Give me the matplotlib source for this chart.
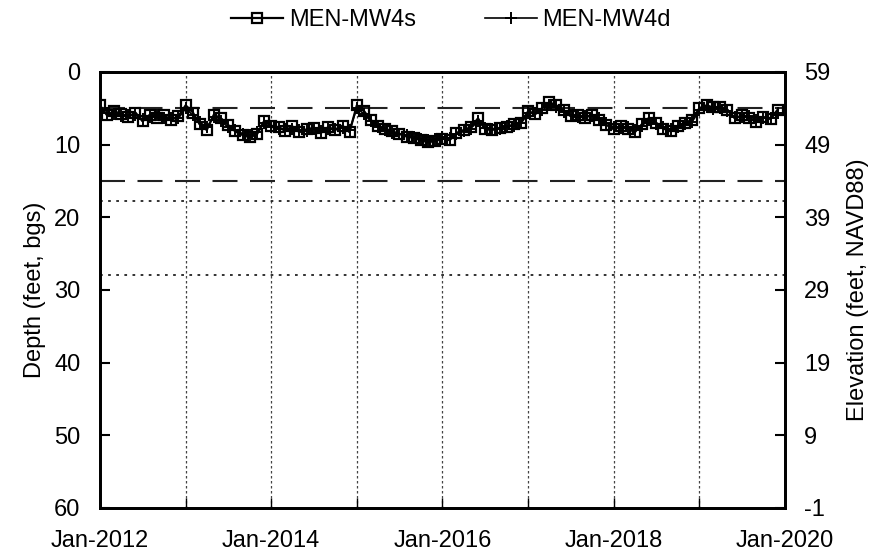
import numpy as np
import pandas as pd
import matplotlib
matplotlib.use('Agg')
import matplotlib.pyplot as plt
import matplotlib.dates as mdates
from matplotlib.ticker import FixedLocator

plt.rcParams['font.family'] = ['Liberation Sans', 'DejaVu Sans']
plt.rcParams['axes.unicode_minus'] = False

# Datos (profundidad en pies bajo superficie, mensual ene-2012 a dic-2019)
fechas = pd.date_range('2012-01-01', periods=96, freq='MS')

prof_mw4s = [
    4.6, 6.0, 5.4, 5.8, 6.2, 5.6, 6.8, 5.9, 6.3, 6.0, 6.6, 6.1,
    4.6, 5.6, 7.2, 8.0, 5.9, 6.4, 7.3, 8.2, 8.7, 9.0, 8.6, 6.8,
    7.4, 7.6, 8.1, 7.5, 8.3, 7.9, 7.7, 8.4, 7.6, 8.0, 7.4, 8.3,
    4.6, 5.4, 6.6, 7.4, 7.8, 8.2, 8.5, 8.9, 9.1, 9.4, 9.7, 9.5,
    9.2, 9.4, 8.4, 8.0, 7.6, 6.4, 7.9, 8.0, 7.7, 7.6, 7.2, 7.0,
    5.4, 5.8, 5.0, 4.2, 4.6, 5.3, 6.1, 6.0, 6.3, 5.9, 6.6, 7.3,
    7.9, 7.5, 7.8, 8.3, 7.2, 6.3, 7.0, 7.8, 8.2, 7.5, 7.0, 6.6,
    5.0, 4.6, 4.9, 4.8, 5.2, 6.4, 6.0, 6.3, 6.9, 6.2, 6.5, 5.2,
]
prof_mw4d = [
    5.2, 5.7, 5.8, 6.1, 5.9, 6.0, 6.5, 6.2, 6.0, 6.3, 6.4, 6.4,
    5.0, 6.0, 6.9, 7.6, 6.2, 6.8, 7.6, 8.0, 8.5, 8.7, 8.3, 7.1,
    7.6, 7.8, 7.8, 7.8, 8.0, 8.1, 7.9, 8.1, 7.9, 7.8, 7.7, 8.0,
    5.0, 5.8, 6.8, 7.6, 8.0, 8.4, 8.6, 8.7, 9.0, 9.2, 9.4, 9.3,
    9.0, 9.1, 8.6, 8.2, 7.8, 6.8, 7.7, 7.8, 7.8, 7.5, 7.4, 7.1,
    5.7, 5.6, 5.3, 4.6, 4.9, 5.5, 6.0, 6.2, 6.1, 6.1, 6.4, 7.0,
    7.6, 7.7, 7.6, 8.0, 7.4, 6.6, 7.2, 7.6, 7.9, 7.6, 7.2, 6.9,
    5.3, 4.9, 5.1, 5.0, 5.4, 6.2, 6.2, 6.1, 6.6, 6.3, 6.3, 5.6,
]

# Niveles de referencia
linea_guion = [5, 15]
linea_punto = [17.8, 28]

ELEV_SUPERFICIE = 59
FS = 17

fig = plt.figure(figsize=(8.76, 5.57), dpi=100)
ax = fig.add_axes([0.114, 0.088, 0.782, 0.783])

for y in linea_guion:
    ax.axhline(y, color='#222222', lw=1.5, ls=(0, (12, 6)), zorder=1)
for y in linea_punto:
    ax.axhline(y, color='#222222', lw=1.3, ls=(0, (1.5, 3)), zorder=1)

ax.plot(fechas, prof_mw4s, color='black', lw=1.6, marker='s', ms=7.5,
        mfc='none', mec='black', mew=1.6, label='MEN-MW4s', zorder=3)
ax.plot(fechas, prof_mw4d, color='black', lw=1.2, marker='+', ms=8,
        mew=1.4, label='MEN-MW4d', zorder=4)

ax.set_xlim(pd.Timestamp('2012-01-01'), pd.Timestamp('2020-01-01'))
ax.set_ylim(60, 0)
ax.set_yticks(np.arange(0, 61, 10))

anios = [pd.Timestamp(f'{a}-01-01') for a in range(2012, 2021)]
ax.xaxis.set_major_locator(FixedLocator(mdates.date2num(anios[::2])))
ax.xaxis.set_minor_locator(FixedLocator(mdates.date2num(anios)))
ax.xaxis.set_major_formatter(mdates.DateFormatter('%b-%Y'))

for a in anios[1:-1]:
    ax.axvline(a, color='#444444', lw=0.9, ls=(0, (2, 2)), zorder=0)

ax.tick_params(axis='both', which='both', direction='in', labelsize=FS)
ax.tick_params(axis='x', which='both', length=7, width=1, pad=16)
ax.tick_params(axis='y', length=7, width=1.5, pad=14)
for s in ax.spines.values():
    s.set_linewidth(2)

ax.set_ylabel('Depth (feet, bgs)', fontsize=FS, labelpad=6)

ax2 = ax.twinx()
ax2.set_ylim(ELEV_SUPERFICIE - 60, ELEV_SUPERFICIE)
ax2.set_yticks(np.arange(ELEV_SUPERFICIE - 60, ELEV_SUPERFICIE + 1, 10))
ax2.tick_params(axis='y', direction='in', length=7, width=1.5, labelsize=FS, pad=14)
ax2.set_ylabel('Elevation (feet, NAVD88)', fontsize=FS, labelpad=12)
for s in ax2.spines.values():
    s.set_linewidth(2)

leg = fig.legend(*ax.get_legend_handles_labels(), loc='upper center',
                 bbox_to_anchor=(0.515, 1.022), ncol=2, frameon=False,
                 fontsize=FS, handlelength=2.2, columnspacing=2.9,
                 handletextpad=0.25)

fig.savefig('out.png', dpi=100)
